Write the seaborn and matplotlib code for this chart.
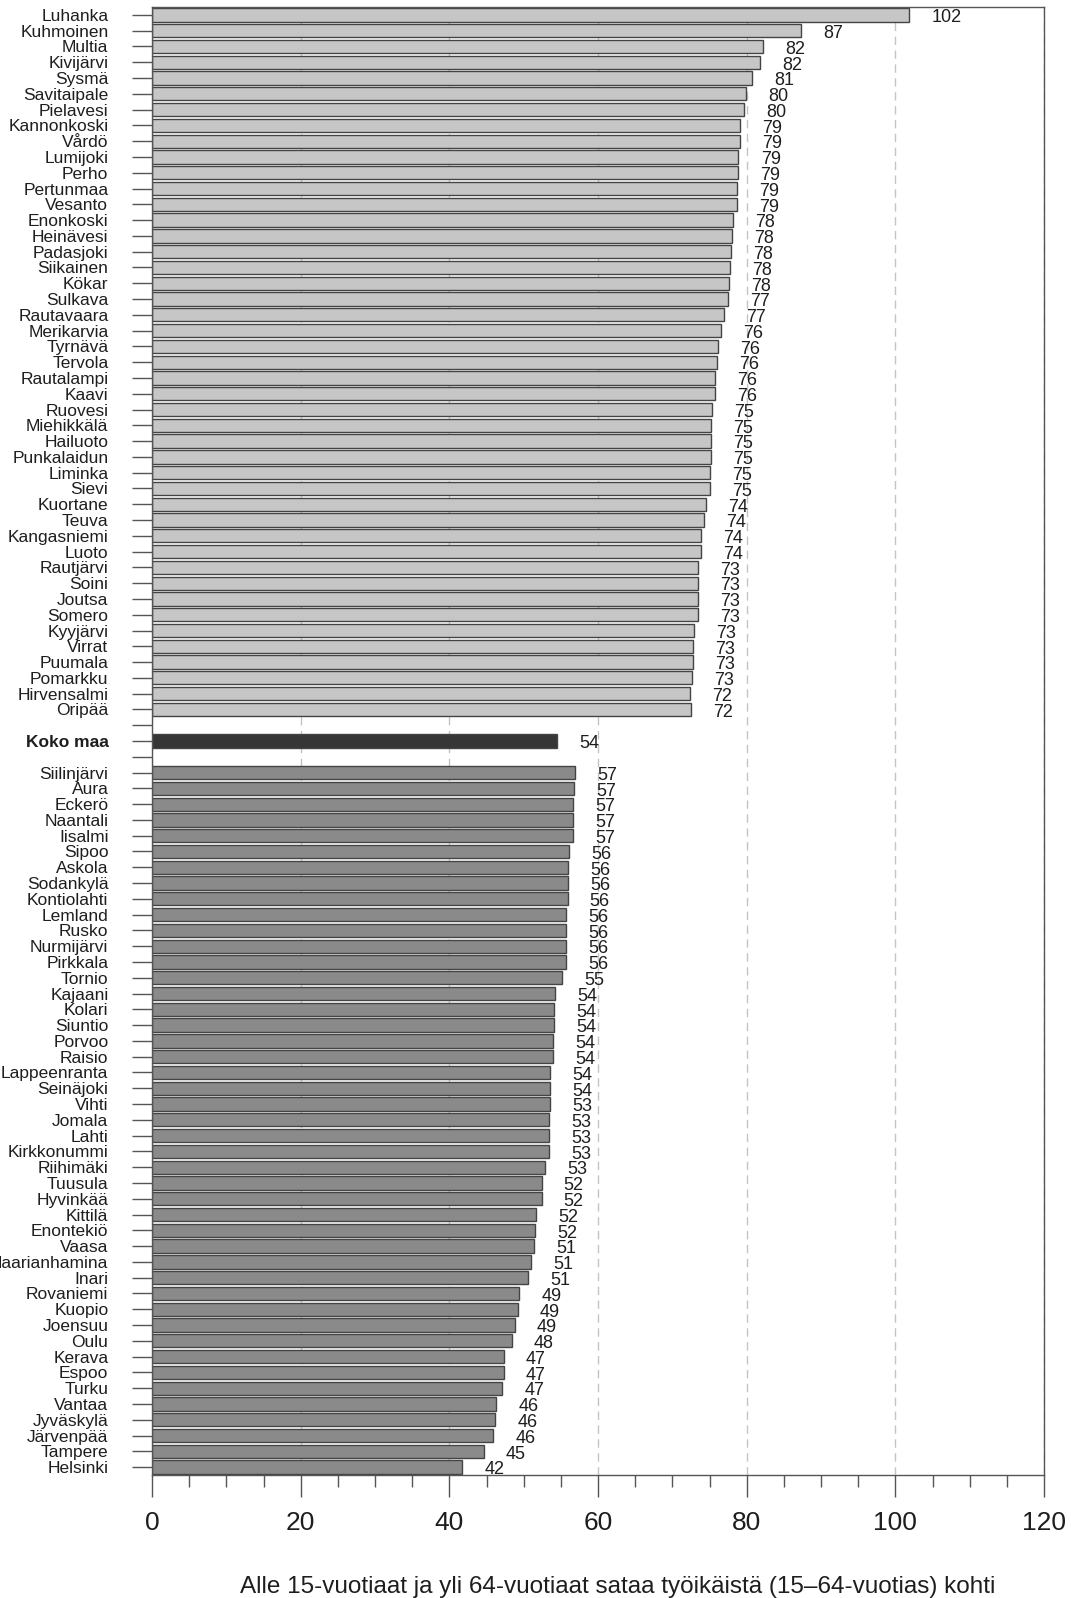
import matplotlib
matplotlib.use("Agg")
import matplotlib.pyplot as plt
import seaborn as sns
import pandas as pd
from matplotlib.ticker import MultipleLocator

# ---------------- data ----------------
top_names = ["Luhanka", "Kuhmoinen", "Multia", "Kivijärvi", "Sysmä", "Savitaipale",
             "Pielavesi", "Kannonkoski", "Vårdö", "Lumijoki", "Perho", "Pertunmaa",
             "Vesanto", "Enonkoski", "Heinävesi", "Padasjoki", "Siikainen", "Kökar",
             "Sulkava", "Rautavaara", "Merikarvia", "Tyrnävä", "Tervola", "Rautalampi",
             "Kaavi", "Ruovesi", "Miehikkälä", "Hailuoto", "Punkalaidun", "Liminka",
             "Sievi", "Kuortane", "Teuva", "Kangasniemi", "Luoto", "Rautjärvi", "Soini",
             "Joutsa", "Somero", "Kyyjärvi", "Virrat", "Puumala", "Pomarkku",
             "Hirvensalmi", "Oripää"]
top_values = [101.9, 87.3, 82.2, 81.8, 80.7, 79.9, 79.7, 79.1, 79.1, 78.9, 78.8, 78.7,
              78.7, 78.2, 78.0, 77.9, 77.7, 77.6, 77.5, 77.0, 76.5, 76.1, 76.0, 75.7,
              75.7, 75.3, 75.2, 75.2, 75.2, 75.1, 75.0, 74.5, 74.2, 73.9, 73.8, 73.5,
              73.4, 73.4, 73.4, 72.9, 72.8, 72.8, 72.6, 72.4, 72.5]
top_labels = ["102", "87", "82", "82", "81", "80", "80", "79", "79", "79", "79", "79",
              "79", "78", "78", "78", "78", "78", "77", "77", "76", "76", "76", "76",
              "76", "75", "75", "75", "75", "75", "75", "74", "74", "74", "74", "73",
              "73", "73", "73", "73", "73", "73", "73", "72", "72"]

national_name = "Koko maa"
national_value = 54.5
national_label = "54"

bottom_names = ["Siilinjärvi", "Aura", "Eckerö", "Naantali", "Iisalmi", "Sipoo", "Askola",
                "Sodankylä", "Kontiolahti", "Lemland", "Rusko", "Nurmijärvi", "Pirkkala",
                "Tornio", "Kajaani", "Kolari", "Siuntio", "Porvoo", "Raisio",
                "Lappeenranta", "Seinäjoki", "Vihti", "Jomala", "Lahti", "Kirkkonummi",
                "Riihimäki", "Tuusula", "Hyvinkää", "Kittilä", "Enontekiö", "Vaasa",
                "Maarianhamina", "Inari", "Rovaniemi", "Kuopio", "Joensuu", "Oulu",
                "Kerava", "Espoo", "Turku", "Vantaa", "Jyväskylä", "Järvenpää",
                "Tampere", "Helsinki"]
bottom_values = [56.9, 56.8, 56.7, 56.7, 56.7, 56.1, 56.0, 56.0, 55.9, 55.7, 55.7, 55.7,
                 55.7, 55.2, 54.2, 54.1, 54.1, 54.0, 53.9, 53.6, 53.6, 53.5, 53.4, 53.4,
                 53.4, 52.9, 52.4, 52.4, 51.7, 51.5, 51.4, 51.0, 50.6, 49.4, 49.2, 48.8,
                 48.4, 47.3, 47.3, 47.1, 46.3, 46.2, 45.9, 44.6, 41.7]
bottom_labels = ["57", "57", "57", "57", "57", "56", "56", "56", "56", "56", "56", "56",
                 "56", "55", "54", "54", "54", "54", "54", "54", "54", "53", "53", "53",
                 "53", "53", "52", "52", "52", "52", "51", "51", "51", "49", "49", "49",
                 "48", "47", "47", "47", "46", "46", "46", "45", "42"]

x_major_step = 20
x_minor_step = 5
x_max = 120
xlabel_text = "Alle 15-vuotiaat ja yli 64-vuotiaat sataa työikäistä (15–64-vuotias) kohti"

# ---------------- style ----------------
sns.set_style("white")
plt.rcParams['font.family'] = ['Liberation Sans', 'DejaVu Sans']

gap1, gap2 = " ", "  "
order = top_names + [gap1, national_name, gap2] + bottom_names

df = pd.DataFrame({
    "kunta": top_names + [national_name] + bottom_names,
    "arvo": top_values + [national_value] + bottom_values,
    "ryhma": ["top"] * len(top_names) + ["koko"] + ["bottom"] * len(bottom_names),
    "teksti": top_labels + [national_label] + bottom_labels,
})
palette = {"top": "#c6c6c6", "koko": "#363636", "bottom": "#8a8a8a"}

W, H = 1071, 1598
fig = plt.figure(figsize=(W / 100, H / 100), dpi=100)
ax = fig.add_axes([152 / W, 1 - 1475 / H, (1044 - 152) / W, (1475 - 7) / H])

sns.barplot(data=df, x="arvo", y="kunta", hue="ryhma", order=order, palette=palette,
            dodge=False, legend=False, width=0.84, edgecolor="#444444", linewidth=1.0,
            saturation=1, orient="h", errorbar=None, ax=ax)

# value labels
for name, val, txt in zip(df["kunta"], df["arvo"], df["teksti"]):
    pos = order.index(name)
    ax.annotate(txt, xy=(val, pos), xytext=(16, -2), textcoords="offset points",
                ha="left", va="center", fontsize=13, color="#1e1e1e")

ax.set_xlim(0, x_max)
ax.set_ylim(len(order) - 0.5, -0.5)
ax.xaxis.set_major_locator(MultipleLocator(x_major_step))
ax.xaxis.set_minor_locator(MultipleLocator(x_minor_step))

ax.set_axisbelow(True)
ax.grid(axis="x", which="major", color="#c4c4c4", linewidth=1.0, linestyle=(0, (6, 4)))
ax.grid(axis="y", visible=False)

for sp in ax.spines.values():
    sp.set_visible(True)
    sp.set_color("#555555")
    sp.set_linewidth(1.0)

ax.tick_params(axis="y", left=True, length=14.4, width=1, color="#555555", pad=17,
               labelsize=12.5, labelcolor="#1e1e1e")
ax.tick_params(axis="x", which="major", bottom=True, length=16, width=1, color="#555555",
               pad=10, labelsize=19, labelcolor="#1e1e1e")
ax.tick_params(axis="x", which="minor", bottom=True, length=8.6, width=1, color="#555555")

for lbl in ax.get_yticklabels():
    if lbl.get_text() == national_name:
        lbl.set_fontweight("bold")

ax.set_xlabel("")
ax.set_ylabel("")
fig.text(618 / W, 1 - 1587 / H, xlabel_text, ha="center", va="center", fontsize=17.5,
         color="#1e1e1e")

fig.savefig("out.png", dpi=100)
